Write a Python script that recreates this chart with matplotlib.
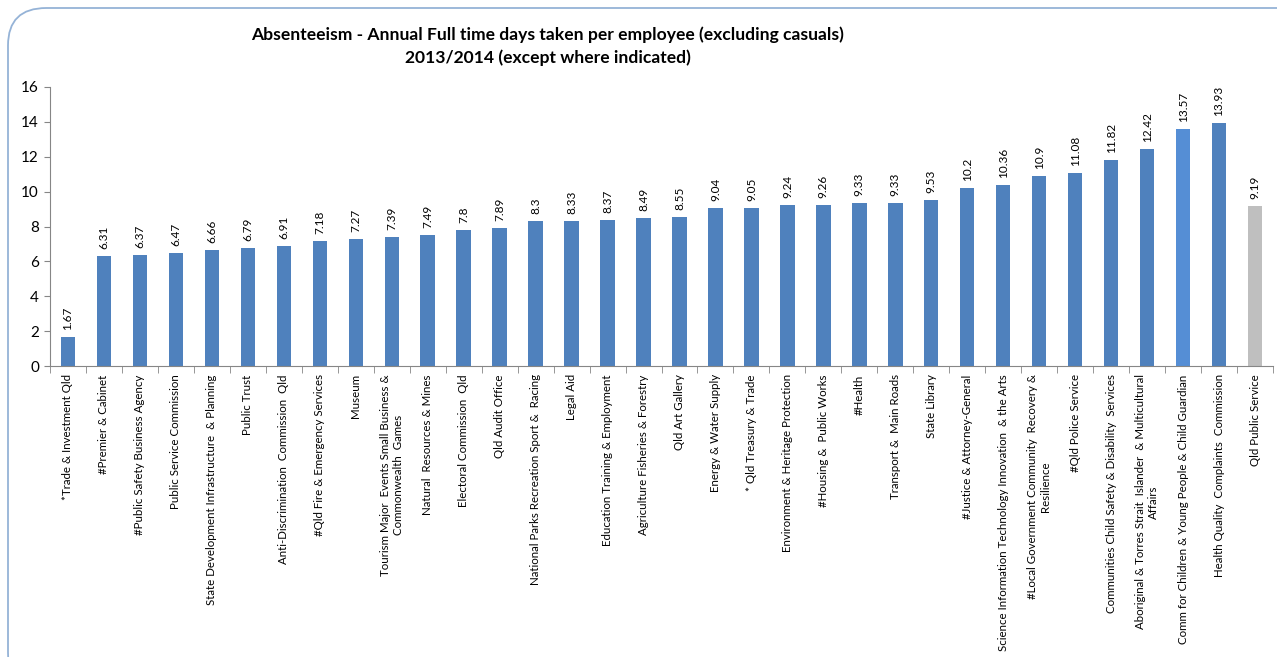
import matplotlib
matplotlib.use("Agg")
import matplotlib.pyplot as plt
from matplotlib.patches import FancyBboxPatch

plt.rcParams["font.family"] = ["Lato", "DejaVu Sans"]

agencies = [
    "*Trade & Investment Qld",
    "#Premier & Cabinet",
    "#Public Safety Business Agency",
    "Public Service Commission",
    "State Development Infrastructure  & Planning",
    "Public Trust",
    "Anti-Discrimination  Commission  Qld",
    "#Qld Fire & Emergency Services",
    "Museum",
    "Tourism Major  Events Small Business &\nCommonwealth  Games",
    "Natural  Resources & Mines",
    "Electoral Commission  Qld",
    "Qld Audit Office",
    "National Parks Recreation Sport &  Racing",
    "Legal Aid",
    "Education Training & Employment",
    "Agriculture Fisheries & Forestry",
    "Qld Art Gallery",
    "Energy & Water Supply",
    "* Qld Treasury & Trade",
    "Environment & Heritage Protection",
    "#Housing &  Public Works",
    "#Health",
    "Transport &  Main Roads",
    "State Library",
    "#Justice & Attorney-General",
    "Science Information Technology Innovation  & the Arts",
    "#Local Government Community  Recovery &\nResilience",
    "#Qld Police Service",
    "Communities Child Safety & Disability  Services",
    "Aboriginal & Torres Strait  Islander  & Multicultural\nAffairs",
    "Comm for Children & Young People & Child Guardian",
    "Health Quality  Complaints  Commission",
    "Qld Public Service",
]
days = [1.67, 6.31, 6.37, 6.47, 6.66, 6.79, 6.91, 7.18, 7.27, 7.39, 7.49, 7.8,
        7.89, 8.3, 8.33, 8.37, 8.49, 8.55, 9.04, 9.05, 9.24, 9.26, 9.33, 9.33,
        9.53, 10.2, 10.36, 10.9, 11.08, 11.82, 12.42, 13.57, 13.93, 9.19]
value_labels = ["1.67", "6.31", "6.37", "6.47", "6.66", "6.79", "6.91", "7.18",
                "7.27", "7.39", "7.49", "7.8", "7.89", "8.3", "8.33", "8.37",
                "8.49", "8.55", "9.04", "9.05", "9.24", "9.26", "9.33", "9.33",
                "9.53", "10.2", "10.36", "10.9", "11.08", "11.82", "12.42",
                "13.57", "13.93", "9.19"]

colors = ["#4F81BD"] * len(days)
colors[-3] = "#558ED5"
colors[-1] = "#BFBFBF"

fig = plt.figure(figsize=(12.77, 6.57), dpi=100)
fig.patch.set_facecolor("white")

border = FancyBboxPatch((8 / 1277, -0.05), 1.1, 1.05 - 8 / 657,
                        boxstyle="round,pad=0,rounding_size=0.03",
                        transform=fig.transFigure, fill=False,
                        edgecolor="#95B3D7", linewidth=1.3, mutation_aspect=1.9)
fig.patches.append(border)

ax = fig.add_axes([50 / 1277, 1 - 366 / 657, 1223 / 1277, (366 - 87) / 657])
x = list(range(len(days)))
ax.bar(x, days, width=0.4, color=colors, zorder=2)

for xi, v, lab in zip(x, days, value_labels):
    ax.annotate(lab, (xi, v), xytext=(0, 5), textcoords="offset points",
                rotation=90, ha="center", va="bottom", fontsize=8.5)

ax.set_xlim(-0.5, len(days) - 0.5)
ax.set_ylim(0, 16)
ax.set_yticks(range(0, 17, 2))
ax.tick_params(axis="y", labelsize=11, length=4, color="#868686", pad=4)
ax.set_xticks(x)
ax.set_xticklabels(agencies, rotation=90, fontsize=8.3, ha="center", va="top",
                   multialignment="center")
ax.tick_params(axis="x", which="major", length=0, pad=6)
ax.set_xticks([i - 0.5 for i in range(len(days) + 1)], minor=True)
ax.tick_params(axis="x", which="minor", length=5, color="#868686")

for side in ["top", "right"]:
    ax.spines[side].set_visible(False)
ax.spines["left"].set_color("#868686")
ax.spines["bottom"].set_color("#868686")

fig.text(548 / 1277, 1 - 35 / 657,
         "Absenteeism - Annual Full time days taken per employee (excluding casuals)",
         ha="center", va="center", fontsize=12.6, fontweight="bold")
fig.text(548 / 1277, 1 - 58 / 657, "2013/2014 (except where indicated)",
         ha="center", va="center", fontsize=12.6, fontweight="bold")

fig.savefig("out.png", dpi=100, facecolor="white")
